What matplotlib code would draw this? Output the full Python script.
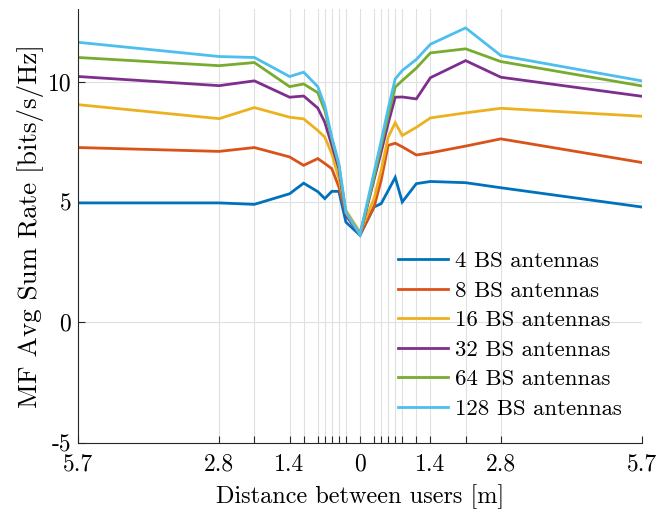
import matplotlib
matplotlib.use("Agg")
import matplotlib.pyplot as plt

# distance between users [m], left half mirrored
distance = [-5.7, -2.85, -2.1375, -1.425, -1.14, -0.855, -0.7125, -0.57, -0.4275, -0.285, 0.0,
            0.285, 0.4275, 0.57, 0.7125, 0.855, 1.14, 1.425, 2.1375, 2.85, 5.7]

rate_4 = [4.96, 4.96, 4.90, 5.34, 5.78, 5.43, 5.14, 5.44, 5.44, 4.16, 3.62,
          4.79, 4.93, 5.47, 6.02, 5.00, 5.76, 5.85, 5.80, 5.59, 4.79]
rate_8 = [7.26, 7.10, 7.26, 6.87, 6.52, 6.80, 6.60, 6.38, 5.62, 4.51, 3.65,
          4.80, 5.90, 7.35, 7.44, 7.29, 6.95, 7.04, 7.32, 7.62, 6.64]
rate_16 = [9.04, 8.46, 8.92, 8.52, 8.45, 7.97, 7.69, 7.00, 5.96, 4.65, 3.75,
           5.14, 6.31, 7.69, 8.29, 7.76, 8.10, 8.49, 8.70, 8.89, 8.56]
rate_32 = [10.21, 9.83, 10.03, 9.35, 9.40, 8.90, 8.31, 7.35, 6.38, 4.44, 3.65,
           5.94, 7.07, 8.26, 9.35, 9.36, 9.28, 10.16, 10.87, 10.18, 9.39]
rate_64 = [11.00, 10.66, 10.79, 9.79, 9.90, 9.54, 8.80, 7.62, 6.52, 4.54, 3.65,
           6.04, 7.32, 8.60, 9.77, 10.04, 10.56, 11.19, 11.36, 10.83, 9.82]
rate_128 = [11.63, 11.04, 11.00, 10.21, 10.39, 9.79, 9.00, 7.69, 6.59, 4.58, 3.65,
            6.24, 7.52, 8.88, 10.11, 10.46, 10.92, 11.55, 12.23, 11.08, 10.03]

series = [rate_4, rate_8, rate_16, rate_32, rate_64, rate_128]
labels = ["4 BS antennas", "8 BS antennas", "16 BS antennas",
          "32 BS antennas", "64 BS antennas", "128 BS antennas"]
colors = ["#0072BD", "#D95319", "#EDB120", "#7E2F8E", "#77AC30", "#4DBEEE"]

xtick_pos = [-5.7, -2.85, -1.425, 0.0, 1.425, 2.85, 5.7]
xtick_labels = ["5.7", "2.8", "1.4", "0", "1.4", "2.8", "5.7"]
ytick_pos = [-5, 0, 5, 10]
ytick_labels = ["-5", "0", "5", "10"]

plt.rcParams["font.family"] = "cmr10"
plt.rcParams["axes.formatter.use_mathtext"] = True

fig = plt.figure(figsize=(6.57, 5.13), dpi=100)
ax = fig.add_axes([0.1192, 0.1370, 0.8575, 0.8448])

for y, lab, c in zip(series, labels, colors):
    ax.plot(distance, y, color=c, lw=2.0, label=lab, solid_joinstyle="miter")

ax.set_xlim(-5.7, 5.7)
ax.set_ylim(-5, 13)
ax.set_xticks(xtick_pos)
ax.set_xticklabels(xtick_labels)
ax.set_xticks([d for d in distance if d not in xtick_pos], minor=True)
ax.set_yticks(ytick_pos)
ax.set_yticklabels(ytick_labels)

ax.grid(True, which="both", axis="x", color="#e0e0e0", lw=0.8)
ax.grid(True, which="major", axis="y", color="#e0e0e0", lw=0.8)
ax.set_axisbelow(True)

ax.tick_params(axis="both", which="both", direction="in", length=5, width=0.8,
               color="#262626", labelsize=17, top=False, right=False, pad=5)
ax.tick_params(axis="x", which="both", pad=8)
ax.tick_params(axis="x", which="minor", labelbottom=False)
for s in ["top", "right"]:
    ax.spines[s].set_visible(False)
for s in ["left", "bottom"]:
    ax.spines[s].set_color("#262626")
    ax.spines[s].set_linewidth(0.8)

ax.set_xlabel("Distance between users [m]", fontsize=17.5, labelpad=6)
ax.set_ylabel("MF Avg Sum Rate [bits/s/Hz]", fontsize=19.5, labelpad=3)

ax.legend(loc="upper left", bbox_to_anchor=(0.606, 0.510), bbox_transform=fig.transFigure,
          frameon=False, fontsize=16.4, handlelength=2.2, handletextpad=0.3,
          labelspacing=0.42, borderpad=0, borderaxespad=0)

fig.savefig("out.png", dpi=100)
